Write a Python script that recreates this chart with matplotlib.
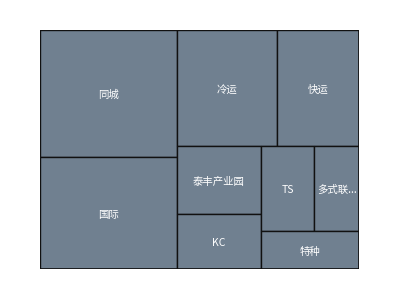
import matplotlib
matplotlib.use("Agg")
import matplotlib.pyplot as plt
from matplotlib.patches import Rectangle

plt.rcParams['font.family'] = ['Noto Sans CJK SC', 'DejaVu Sans']

labels = ['同城', '国际', '冷运', '快运', '泰丰产业园', 'KC', 'TS', '多式联运', '特种']
display_labels = ['同城', '国际', '冷运', '快运', '泰丰产业园', 'KC', 'TS', '多式联...', '特种']
values = [172, 153, 115, 95, 57.5, 46, 45.5, 38.2, 37.7]

W, H = 319.0, 239.0


def worst(row, w):
    s = sum(row)
    return max(max(w * w * r / (s * s), (s * s) / (w * w * r)) for r in row)


def squarify(vals, x, y, w, h):
    total = sum(vals)
    scale = w * h / total
    areas = [v * scale for v in vals]
    rects = []
    i = 0
    while i < len(areas):
        short = min(w, h)
        row = [areas[i]]
        j = i + 1
        while j < len(areas) and worst(row + [areas[j]], short) <= worst(row, short):
            row.append(areas[j])
            j += 1
        s = sum(row)
        if w >= h:
            cw = s / h
            yy = y
            for a in row:
                rh = a / cw
                rects.append((x, yy, cw, rh))
                yy += rh
            x += cw
            w -= cw
        else:
            rh = s / w
            xx = x
            for a in row:
                rw = a / rh
                rects.append((xx, y, rw, rh))
                xx += rw
            y += rh
            h -= rh
        i = j
    return rects


fig = plt.figure(figsize=(4, 3), dpi=100)
ax = fig.add_axes([40.3 / 400, 1 - 269.3 / 300, 319 / 400, 239 / 300])
ax.set_xlim(0, W)
ax.set_ylim(H, 0)
ax.axis('off')

rects = squarify(values, 0, 0, W, H)
for (rx, ry, rw, rh), lab in zip(rects, display_labels):
    ax.add_patch(Rectangle((rx, ry), rw, rh, facecolor='#708090',
                           edgecolor='#111111', linewidth=1.0))
    ax.text(rx + rw / 2, ry + rh / 2 + 1.5, lab, ha='center', va='center',
            color='white', fontsize=7.5)

ax.add_patch(Rectangle((0, 0), W, H, fill=False, edgecolor='#111111',
                       linewidth=1.2))

fig.savefig('out.png', dpi=100)
